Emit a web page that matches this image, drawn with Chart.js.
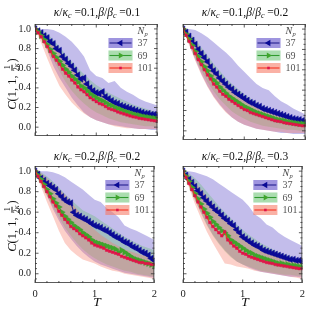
<!DOCTYPE html>
<html>
<head>
<meta charset="utf-8">
<script src="https://cdn.jsdelivr.net/npm/chart.js@4.4.1/dist/chart.umd.min.js"></script>
<style>
  body { margin: 0; background: #fff; width: 314px; height: 309px; overflow: hidden; position: relative; font-family: "Liberation Serif", "DejaVu Serif", serif; }
  canvas { position: absolute; }
  .ttl { position: absolute; transform: translate(-50%, -50%); font-size: 11.5px; white-space: nowrap; color: #111; }
  .ttl sub { font-size: 8px; vertical-align: -2px; }
  .ylab { position: absolute; transform: translate(-50%, -50%) rotate(-90deg); font-size: 12.5px; white-space: nowrap; color: #111; display: flex; align-items: center; }
  .frac { display: inline-flex; flex-direction: column; align-items: center; font-size: 8px; line-height: 8px; margin: 0 1px; }
  .frac .num { border-bottom: 0.8px solid #111; padding: 0 1px; }
  .xlab { position: absolute; transform: translate(-50%, -50%); font-size: 13.5px; font-style: italic; color: #111; }
</style>
</head>
<body>
<canvas id="c11" width="162" height="146" style="left:0;top:0"></canvas>
<canvas id="c12" width="162" height="146" style="left:148px;top:0"></canvas>
<canvas id="c22" width="162" height="167" style="left:0;top:142px"></canvas>
<canvas id="c23" width="162" height="167" style="left:148px;top:142px"></canvas>

<div class="ttl" style="left:97px;top:13px"><i>κ</i>/<i>κ</i><sub><i>c</i></sub> =0.1,<i>β</i>/<i>β</i><sub><i>c</i></sub> =0.1</div>
<div class="ttl" style="left:245px;top:13px"><i>κ</i>/<i>κ</i><sub><i>c</i></sub> =0.1,<i>β</i>/<i>β</i><sub><i>c</i></sub> =0.2</div>
<div class="ttl" style="left:97px;top:157px"><i>κ</i>/<i>κ</i><sub><i>c</i></sub> =0.2,<i>β</i>/<i>β</i><sub><i>c</i></sub> =0.2</div>
<div class="ttl" style="left:245px;top:157px"><i>κ</i>/<i>κ</i><sub><i>c</i></sub> =0.2,<i>β</i>/<i>β</i><sub><i>c</i></sub> =0.3</div>

<div class="ylab" style="left:12px;top:84px"><span><i>C</i>(1, 1,&nbsp;</span><span class="frac"><span class="num">1</span><span>2<i>κ</i></span></span><span>)</span></div>
<div class="ylab" style="left:12px;top:226px"><span><i>C</i>(1, 1,&nbsp;</span><span class="frac"><span class="num">1</span><span>2<i>κ</i></span></span><span>)</span></div>

<div class="xlab" style="left:97px;top:302px">T</div>
<div class="xlab" style="left:245px;top:302px">T</div>

<script>
// time grid of the curves and of the shaded bands
const tLine = [0, 0.05, 0.1, 0.15, 0.2, 0.25, 0.3, 0.35, 0.4, 0.45, 0.5, 0.55, 0.6, 0.65, 0.7, 0.75, 0.8, 0.85, 0.9, 0.95,
  1, 1.05, 1.1, 1.15, 1.2, 1.25, 1.3, 1.35, 1.4, 1.45, 1.5, 1.55, 1.6, 1.65, 1.7, 1.75, 1.8, 1.85, 1.9, 1.95, 2];
const tBand = [0, 0.1, 0.2, 0.3, 0.4, 0.5, 0.6, 0.7, 0.8, 0.9, 1, 1.1, 1.2, 1.3, 1.4, 1.5, 1.6, 1.7, 1.8, 1.9, 2];

const npLabels = ["37", "69", "101"];
const xTicks = [0, 1, 2];
const xMinor = [0.2, 0.4, 0.6, 0.8, 1.2, 1.4, 1.6, 1.8];
const yTicks = [0, 0.2, 0.4, 0.6, 0.8, 1.0];
const yMinor = [-0.05, 0.05, 0.1, 0.15, 0.25, 0.3, 0.35, 0.45, 0.5, 0.55, 0.65, 0.7, 0.75, 0.85, 0.9, 0.95];

// kappa/kc = 0.1, beta/bc = 0.1
const p11_37 = [1.00, .98, .96, .93, .91, .87, .85, .80, .78, .72, .69, .65, .62, .58, .53, .49, .50, .44, .40, .37,
  .35, .34, .36, .31, .29, .27, .25, .24, .22, .21, .20, .19, .18, .17, .16, .15, .14, .14, .13, .13, .12];
const p11_69 = [1.00, .97, .93, .89, .84, .79, .75, .71, .67, .63, .59, .56, .52, .49, .46, .42, .40, .37, .34, .32,
  .30, .28, .27, .25, .23, .22, .20, .19, .18, .165, .155, .145, .135, .125, .12, .11, .105, .10, .095, .09, .085];
const p11_101 = [1.00, .96, .92, .87, .82, .77, .72, .68, .64, .59, .55, .52, .48, .45, .41, .38, .36, .33, .30, .28,
  .26, .24, .23, .21, .19, .18, .17, .155, .145, .135, .125, .115, .105, .10, .09, .085, .08, .075, .07, .065, .06];
const p11_37_hi = [1.0, 1.0, 1.0, .99, .96, .92, .87, .80, .72, .58, .52, .50, .45, .47, .40, .36, .33, .29, .26, .24, .22];
const p11_37_lo = [1.0, .90, .78, .62, .50, .40, .30, .22, .15, .10, .07, .05, .03, .02, .01, .00, -.01, -.02, -.02, -.03, -.03];
const p11_69_hi = [1.0, .99, .95, .89, .82, .74, .67, .60, .54, .48, .43, .39, .35, .32, .29, .26, .23, .21, .19, .17, .15];
const p11_69_lo = [1.0, .90, .79, .68, .57, .46, .37, .30, .24, .19, .15, .12, .09, .07, .05, .04, .03, .02, .01, .01, .00];
const p11_101_hi = [1.0, .98, .93, .85, .77, .69, .62, .55, .48, .42, .37, .33, .29, .26, .23, .20, .18, .16, .14, .13, .12];
const p11_101_lo = [1.0, .86, .70, .55, .42, .33, .25, .19, .14, .10, .07, .05, .03, .01, .00, -.01, -.01, -.02, -.02, -.02, -.02];

// kappa/kc = 0.1, beta/bc = 0.2
const p12_37 = [1.00, .97, .93, .89, .85, .80, .76, .72, .68, .63, .59, .56, .52, .49, .46, .43, .41, .38, .36, .34,
  .32, .30, .28, .27, .25, .24, .22, .21, .20, .19, .18, .17, .16, .15, .14, .13, .12, .115, .11, .10, .09];
const p12_69 = [1.00, .95, .90, .84, .78, .73, .68, .63, .59, .54, .50, .47, .43, .40, .37, .34, .32, .30, .28, .26,
  .24, .225, .21, .195, .18, .17, .16, .15, .14, .13, .12, .11, .105, .10, .09, .085, .08, .075, .07, .07, .065];
const p12_101 = [1.00, .94, .88, .82, .76, .70, .65, .60, .55, .51, .46, .43, .39, .36, .34, .31, .29, .27, .25, .23,
  .21, .20, .18, .17, .16, .15, .14, .13, .12, .11, .10, .095, .09, .08, .075, .07, .065, .06, .055, .05, .05];
const p12_37_hi = [1.0, 1.0, .99, .96, .92, .87, .82, .77, .71, .64, .58, .52, .46, .42, .40, .34, .29, .26, .22, .19, .16];
const p12_37_lo = [1.0, .85, .70, .56, .44, .34, .26, .19, .13, .09, .06, .04, .02, .01, .00, -.01, -.02, -.02, -.03, -.03, -.03];
const p12_69_hi = [1.0, .97, .90, .82, .74, .66, .59, .52, .46, .41, .36, .32, .28, .25, .22, .20, .18, .16, .14, .13, .12];
const p12_69_lo = [1.0, .86, .72, .59, .48, .39, .31, .25, .19, .15, .12, .09, .07, .05, .04, .03, .02, .01, .01, .00, .00];
const p12_101_hi = [1.0, .96, .88, .79, .70, .62, .55, .48, .43, .38, .33, .29, .26, .23, .20, .18, .16, .14, .12, .11, .10];
const p12_101_lo = [1.0, .84, .69, .55, .43, .33, .25, .18, .13, .09, .06, .04, .02, .01, .00, -.01, -.01, -.02, -.02, -.02, -.02];

// kappa/kc = 0.2, beta/bc = 0.2
const p22_37 = [1.00, .97, .93, .91, .88, .86, .84, .82, .78, .75, .72, .70, .69, .60, .57, .56, .54, .53, .51, .49,
  .47, .46, .45, .43, .42, .40, .38, .36, .35, .33, .31, .30, .28, .26, .25, .23, .21, .20, .18, .15, .13];
const p22_69 = [1.00, .96, .92, .87, .82, .78, .73, .69, .65, .60, .56, .53, .50, .47, .45, .43, .40, .38, .36, .33,
  .31, .30, .29, .28, .27, .26, .25, .24, .21, .23, .21, .19, .17, .15, .14, .13, .12, .11, .10, .09, .08];
const p22_101 = [1.00, .95, .90, .85, .80, .75, .70, .66, .61, .57, .53, .50, .46, .44, .42, .39, .37, .35, .33, .30,
  .28, .27, .26, .25, .23, .22, .21, .20, .19, .17, .16, .15, .14, .13, .12, .11, .11, .10, .10, .09, .09];
const p22_37_hi = [1.0, 1.0, 1.0, .99, .97, .94, .90, .86, .82, .77, .72, .70, .64, .60, .55, .47, .44, .42, .39, .36, .33];
const p22_37_lo = [1.0, .88, .76, .63, .52, .42, .34, .27, .21, .16, .12, .09, .07, .05, .03, .01, .00, -.01, -.02, -.03, -.04];
const p22_69_hi = [1.0, .99, .95, .90, .84, .78, .72, .67, .62, .59, .56, .52, .48, .44, .40, .36, .33, .30, .27, .25, .23];
const p22_69_lo = [1.0, .88, .76, .65, .55, .45, .37, .30, .24, .19, .15, .12, .09, .07, .05, .03, .02, .00, -.01, -.02, -.03];
const p22_101_hi = [1.0, .98, .93, .87, .82, .77, .70, .63, .56, .49, .43, .38, .34, .30, .27, .24, .22, .20, .18, .17, .16];
const p22_101_lo = [1.0, .85, .70, .56, .42, .30, .23, .18, .14, .12, .10, .07, .05, .03, .02, .00, -.01, -.02, -.03, -.04, -.05];

// kappa/kc = 0.2, beta/bc = 0.3
const p23_37 = [1.00, .96, .92, .89, .85, .81, .78, .74, .71, .68, .65, .62, .60, .57, .54, .52, .49, .47, .43, .40,
  .36, .34, .32, .30, .28, .27, .25, .23, .22, .21, .20, .19, .18, .17, .16, .15, .14, .14, .13, .13, .12];
const p23_69 = [1.00, .95, .90, .84, .78, .73, .68, .63, .59, .55, .51, .48, .45, .42, .40, .37, .33, .31, .29, .27,
  .25, .23, .21, .20, .18, .17, .16, .15, .14, .13, .12, .11, .10, .10, .09, .09, .08, .08, .075, .07, .07];
const p23_101 = [1.00, .94, .88, .82, .76, .70, .65, .60, .55, .50, .46, .43, .40, .37, .41, .33, .30, .27, .25, .22,
  .20, .19, .17, .16, .15, .14, .13, .12, .11, .105, .10, .09, .085, .08, .075, .07, .065, .06, .055, .05, .05];
const p23_37_hi = [1.0, 1.0, .99, .97, .95, .92, .88, .84, .80, .76, .72, .66, .58, .54, .48, .45, .40, .36, .33, .30, .27];
const p23_37_lo = [1.0, .86, .72, .60, .48, .38, .30, .23, .17, .12, .09, .06, .04, .02, .01, .00, -.01, -.02, -.03, -.03, -.04];
const p23_69_hi = [1.0, .98, .93, .87, .80, .73, .66, .60, .54, .48, .43, .38, .34, .30, .27, .24, .21, .19, .17, .15, .14];
const p23_69_lo = [1.0, .86, .72, .59, .47, .37, .29, .22, .16, .12, .09, .07, .05, .03, .02, .01, .00, -.01, -.01, -.02, -.02];
const p23_101_hi = [1.0, .96, .89, .82, .75, .68, .62, .56, .50, .44, .38, .33, .29, .26, .23, .20, .18, .16, .14, .12, .11];
const p23_101_lo = [1.0, .84, .68, .54, .41, .30, .20, .10, .09, .07, .06, .05, .03, .02, .01, .00, -.01, -.02, -.03, -.04, -.05];

const lineColors = ["#23208e", "#2f9a2f", "#f5311f"];
const markColors = ["#0a0a96", "#3fa52c", "#e0124a"];
const bandColors = ["rgba(106,90,205,0.4)", "rgba(90,190,100,0.3)", "rgba(245,120,100,0.35)"];
const markStyle = [
  { pointStyle: "triangle", rotation: -90, radius: 3.7 },
  { pointStyle: "triangle", rotation: 90, radius: 3.4 },
  { pointStyle: "rect", rotation: 0, radius: 1.8 }
];

function pts(xs, ys) {
  return ys.map((y, i) => ({ x: xs[i], y: y }));
}

function makeDatasets(lines, his, los) {
  const ds = [];
  // bands first in the list but drawn underneath via order
  for (let k = 0; k < 3; k++) {
    ds.push({
      data: pts(tBand, his[k]), borderWidth: 0, borderColor: "rgba(0,0,0,0)", pointRadius: 0,
      fill: "+1", backgroundColor: bandColors[k], order: 10 - k
    });
    ds.push({
      data: pts(tBand, los[k]), borderWidth: 0, borderColor: "rgba(0,0,0,0)", pointRadius: 0,
      fill: false, order: 10 - k
    });
  }
  for (let k = 0; k < 3; k++) {
    ds.push({
      data: pts(tLine, lines[k]), borderColor: lineColors[k], borderWidth: 1.1, tension: 0, fill: false,
      pointStyle: markStyle[k].pointStyle, pointRotation: markStyle[k].rotation, pointRadius: markStyle[k].radius,
      pointBackgroundColor: markColors[k], pointBorderColor: markColors[k], pointBorderWidth: 0.5,
      order: 3 - k
    });
  }
  return ds;
}

// frame, inward ticks and the N_p legend
const decor = {
  id: "decor",
  afterDraw(chart) {
    const ctx = chart.ctx, a = chart.chartArea;
    const xs = chart.scales.x, ys = chart.scales.y;
    ctx.save();
    ctx.strokeStyle = "#333";
    ctx.lineWidth = 0.8;
    ctx.strokeRect(a.left + 0.5, a.top + 0.5, a.right - a.left - 1, a.bottom - a.top - 1);
    ctx.beginPath();
    const tick = (x1, y1, x2, y2) => { ctx.moveTo(x1, y1); ctx.lineTo(x2, y2); };
    xTicks.forEach(v => { const p = xs.getPixelForValue(v); tick(p, a.bottom, p, a.bottom - 3.5); tick(p, a.top, p, a.top + 3.5); });
    xMinor.forEach(v => { const p = xs.getPixelForValue(v); tick(p, a.bottom, p, a.bottom - 2); tick(p, a.top, p, a.top + 2); });
    yTicks.forEach(v => { const p = ys.getPixelForValue(v); tick(a.left, p, a.left + 3.5, p); tick(a.right, p, a.right - 3.5, p); });
    yMinor.forEach(v => { const p = ys.getPixelForValue(v); tick(a.left, p, a.left + 2, p); tick(a.right, p, a.right - 2, p); });
    ctx.stroke();

    // legend
    const bx = a.right - 49, bw = 24, bh = 10;
    ctx.fillStyle = "#444";
    ctx.textBaseline = "middle";
    ctx.font = "italic 10px 'Liberation Serif', serif";
    ctx.fillText("N", a.right - 20, a.top + 7);
    ctx.font = "italic 6.5px 'Liberation Serif', serif";
    ctx.fillText("p", a.right - 13, a.top + 10);
    for (let k = 0; k < 3; k++) {
      const cy = a.top + 19 + 12.5 * k;
      ctx.fillStyle = bandColors[k];
      ctx.fillRect(bx, cy - bh / 2, bw, bh);
      ctx.fillRect(bx, cy - bh / 2, bw, bh);
      ctx.strokeStyle = lineColors[k];
      ctx.lineWidth = 1.1;
      ctx.beginPath();
      ctx.moveTo(bx + 1, cy);
      ctx.lineTo(bx + bw - 1, cy);
      ctx.stroke();
      ctx.fillStyle = markColors[k];
      Chart.helpers.drawPoint(ctx, {
        pointStyle: markStyle[k].pointStyle, rotation: markStyle[k].rotation,
        radius: markStyle[k].radius, borderWidth: 0
      }, bx + bw / 2, cy);
      ctx.fillStyle = "#555";
      ctx.font = "10px 'Liberation Serif', serif";
      ctx.fillText(npLabels[k], a.right - 20, cy + 0.5);
    }
    ctx.restore();
  }
};

function panel(id, lines, his, los, showY, showX) {
  new Chart(document.getElementById(id), {
    type: "line",
    data: { datasets: makeDatasets(lines, his, los) },
    options: {
      responsive: false,
      animation: false,
      layout: { padding: { top: 24, right: 4, left: 0, bottom: 0 } },
      plugins: { legend: { display: false }, tooltip: { enabled: false } },
      scales: {
        x: {
          type: "linear", min: 0, max: 2,
          grid: { display: false, drawTicks: false }, border: { display: false },
          afterBuildTicks: s => { s.ticks = xTicks.map(v => ({ value: v })); },
          ticks: { display: showX, padding: 5, color: "#222", font: { family: "'Liberation Serif', serif", size: 10.5 }, callback: v => String(v) },
          afterFit: s => { s.height = showX ? 26 : 6; }
        },
        y: {
          min: -0.09, max: 1.05,
          grid: { display: false, drawTicks: false }, border: { display: false },
          afterBuildTicks: s => { s.ticks = yTicks.map(v => ({ value: v })); },
          ticks: { display: showY, padding: 4, color: "#222", font: { family: "'Liberation Serif', serif", size: 10 }, callback: v => v.toFixed(1) },
          afterFit: s => { s.width = 35; }
        }
      }
    },
    plugins: [decor]
  });
}

panel("c11", [p11_37, p11_69, p11_101], [p11_37_hi, p11_69_hi, p11_101_hi], [p11_37_lo, p11_69_lo, p11_101_lo], true, false);
panel("c12", [p12_37, p12_69, p12_101], [p12_37_hi, p12_69_hi, p12_101_hi], [p12_37_lo, p12_69_lo, p12_101_lo], false, false);
panel("c22", [p22_37, p22_69, p22_101], [p22_37_hi, p22_69_hi, p22_101_hi], [p22_37_lo, p22_69_lo, p22_101_lo], true, true);
panel("c23", [p23_37, p23_69, p23_101], [p23_37_hi, p23_69_hi, p23_101_hi], [p23_37_lo, p23_69_lo, p23_101_lo], false, true);
</script>
</body>
</html>
